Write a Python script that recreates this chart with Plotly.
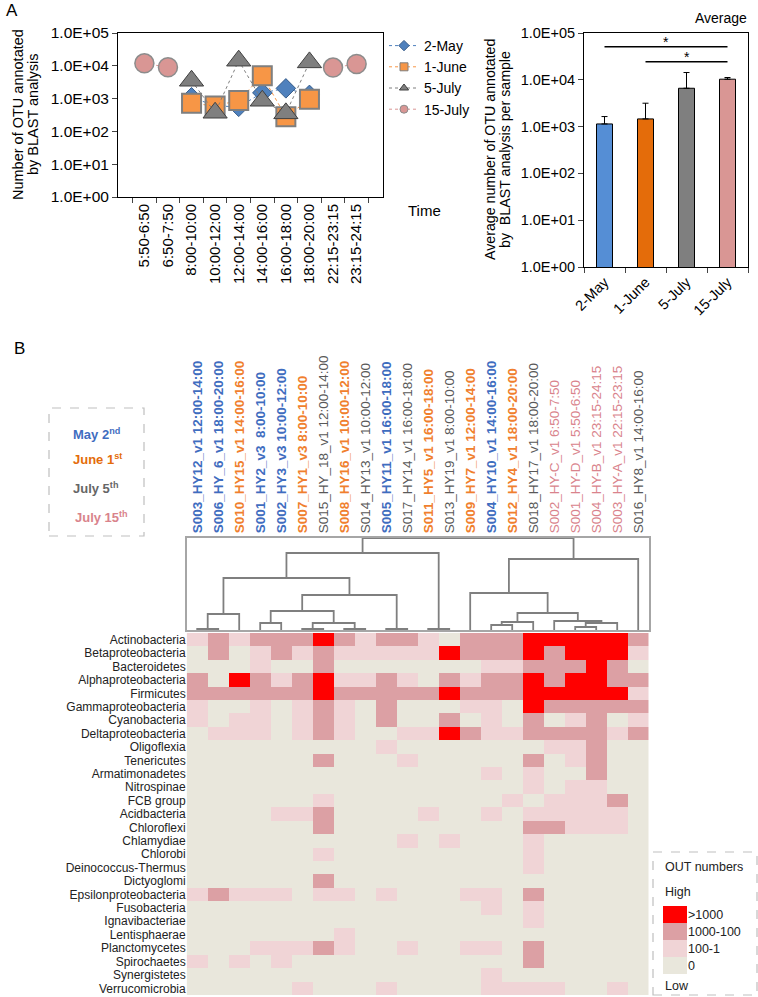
import math
import plotly.graph_objects as go

W, H = 758, 997
def fx(x): return x / W
def fy(y): return 1 - y / H

FONT = "Liberation Sans, Arial, sans-serif"

# ---------------- Panel A (left): OTU per time slot ----------------
time_slots = ['5:50-6:50', '6:50-7:50', '8:00-10:00', '10:00-12:00', '12:00-14:00',
              '14:00-16:00', '16:00-18:00', '18:00-20:00', '22:15-23:15', '23:15-24:15']
otu_may2 = [None, None, 1100, 600, 560, 1500, 2050, 1300, None, None]
otu_june1 = [None, None, 720, 600, 880, 5000, 280, 950, None, None]
otu_july5 = [None, None, 3500, 370, 14300, 860, 355, 12700, None, None]
otu_july15 = [11900, 9000, None, None, None, None, None, None, 8800, 11300]
series_names = ['2-May', '1-June', '5-July', '15-July']

# ---------------- Panel A (right): averages ----------------
avg_dates = ['2-May', '1-June', '5-July', '15-July']
avg_otu = [1140, 1460, 6600, 10300]
avg_err = [500, 1700, 7700, 900]
sig_from = ['2-May', '1-June']
sig_to = ['15-July', '15-July']
sig_level = [50800, 24300]

# ---------------- Panel B: heatmap ----------------
samples = ['S003_HY12_v1 12:00-14:00', 'S006_HY_6_v1 18:00-20:00', 'S010_HY15_v1 14:00-16:00',
           'S001_HY2_v3  8:00-10:00', 'S002_HY3_v3 10:00-12:00', 'S007_HY1_v3 8:00-10:00',
           'S015_HY_18_v1 12:00-14:00', 'S008_HY16_v1 10:00-12:00', 'S014_HY13_v1 10:00-12:00',
           'S005_HY11_v1 16:00-18:00', 'S017_HY14_v1 16:00-18:00', 'S011_HY5_v1 16:00-18:00',
           'S013_HY19_v1 8:00-10:00', 'S009_HY7_v1 12:00-14:00', 'S004_HY10_v1 14:00-16:00',
           'S012_HY4_v1 18:00-20:00', 'S018_HY17_v1 18:00-20:00', 'S002_HY-C_v1 6:50-7:50',
           'S001_HY-D_v1 5:50-6:50', 'S004_HY-B_v1 23:15-24:15', 'S003_HY-A_v1 22:15-23:15',
           'S016_HY8_v1 14:00-16:00']
sample_group = ['May', 'May', 'June', 'May', 'May', 'June', 'Jul5', 'June', 'Jul5', 'May', 'Jul5',
                'June', 'Jul5', 'June', 'May', 'June', 'Jul5', 'Jul15', 'Jul15', 'Jul15', 'Jul15', 'Jul5']
taxa = ['Actinobacteria', 'Betaproteobacteria', 'Bacteroidetes', 'Alphaproteobacteria', 'Firmicutes',
        'Gammaproteobacteria', 'Cyanobacteria', 'Deltaproteobacteria', 'Oligoflexia', 'Tenericutes',
        'Armatimonadetes', 'Nitrospinae', 'FCB group', 'Acidbacteria', 'Chloroflexi', 'Chlamydiae',
        'Chlorobi', 'Deinococcus-Thermus', 'Dictyoglomi', 'Epsilonproteobacteria', 'Fusobacteria',
        'Ignavibacteriae', 'Lentisphaerae', 'Planctomycetes', 'Spirochaetes', 'Synergistetes',
        'Verrucomicrobia']
# 0 = "0", 1 = "100-1", 2 = "1000-100", 3 = ">1000"
otu_level = [
    [1, 2, 1, 2, 2, 2, 3, 2, 1, 2, 2, 1, 0, 2, 2, 2, 3, 3, 3, 3, 3, 2],
    [0, 2, 0, 1, 2, 1, 2, 1, 1, 1, 1, 1, 3, 2, 2, 2, 3, 2, 3, 3, 3, 1],
    [0, 0, 0, 1, 0, 0, 2, 0, 0, 0, 0, 0, 0, 0, 1, 1, 2, 2, 2, 3, 2, 0],
    [2, 0, 3, 2, 1, 2, 3, 1, 1, 2, 1, 0, 2, 1, 2, 2, 3, 2, 3, 3, 2, 2],
    [2, 2, 2, 2, 2, 2, 3, 2, 2, 2, 2, 2, 3, 2, 2, 2, 3, 3, 3, 3, 3, 1],
    [1, 0, 0, 1, 0, 1, 2, 1, 0, 2, 0, 0, 0, 1, 1, 0, 3, 2, 2, 2, 2, 2],
    [1, 0, 1, 1, 0, 1, 2, 1, 0, 2, 0, 0, 2, 0, 1, 0, 2, 0, 1, 2, 0, 1],
    [0, 1, 1, 1, 0, 1, 2, 1, 0, 0, 1, 1, 3, 2, 1, 1, 2, 2, 2, 2, 1, 2],
    [0, 0, 0, 0, 0, 0, 0, 0, 0, 1, 0, 0, 0, 0, 0, 0, 0, 1, 1, 2, 0, 0],
    [0, 0, 0, 0, 0, 0, 2, 0, 0, 0, 1, 0, 0, 0, 0, 0, 2, 0, 1, 2, 0, 0],
    [0, 0, 0, 0, 0, 0, 0, 0, 0, 0, 0, 0, 0, 0, 1, 0, 1, 0, 0, 2, 0, 0],
    [0, 0, 0, 0, 0, 0, 0, 0, 0, 0, 0, 0, 0, 0, 0, 0, 1, 0, 1, 1, 0, 0],
    [0, 0, 0, 0, 0, 0, 1, 0, 0, 0, 0, 0, 0, 0, 0, 1, 0, 1, 1, 1, 2, 0],
    [0, 0, 0, 0, 1, 1, 2, 0, 0, 0, 0, 1, 0, 0, 1, 0, 1, 1, 1, 1, 1, 0],
    [0, 0, 0, 0, 0, 0, 2, 0, 0, 0, 0, 0, 0, 0, 0, 0, 2, 2, 1, 1, 1, 0],
    [0, 0, 0, 0, 0, 0, 0, 0, 0, 0, 1, 0, 1, 0, 0, 0, 1, 0, 0, 0, 0, 0],
    [0, 0, 0, 0, 0, 0, 1, 0, 0, 0, 0, 0, 0, 0, 0, 0, 1, 0, 0, 0, 0, 0],
    [0, 0, 0, 0, 0, 0, 0, 0, 0, 0, 0, 0, 0, 0, 0, 0, 1, 0, 0, 0, 0, 0],
    [0, 0, 0, 0, 0, 0, 2, 0, 0, 0, 0, 0, 0, 0, 0, 0, 0, 0, 0, 0, 0, 0],
    [1, 2, 1, 1, 1, 0, 1, 1, 0, 1, 0, 0, 0, 1, 1, 0, 2, 0, 0, 0, 0, 0],
    [0, 0, 0, 0, 0, 0, 0, 0, 0, 0, 0, 0, 0, 0, 1, 0, 1, 0, 0, 0, 0, 0],
    [0, 0, 0, 0, 0, 0, 0, 0, 0, 0, 0, 0, 0, 0, 0, 0, 1, 0, 0, 0, 0, 0],
    [0, 0, 0, 0, 0, 0, 0, 1, 0, 0, 0, 0, 0, 0, 0, 0, 0, 0, 0, 0, 0, 0],
    [0, 0, 0, 1, 1, 1, 2, 1, 0, 0, 1, 0, 0, 1, 1, 0, 2, 0, 0, 0, 0, 0],
    [1, 0, 1, 0, 1, 0, 0, 0, 0, 0, 0, 0, 0, 0, 0, 0, 2, 0, 0, 0, 0, 0],
    [0, 0, 0, 0, 0, 0, 0, 0, 0, 0, 0, 0, 0, 0, 1, 0, 0, 0, 0, 0, 0, 0],
    [0, 0, 0, 0, 0, 1, 0, 0, 0, 1, 0, 0, 0, 0, 1, 1, 1, 1, 0, 0, 1, 0],
]
level_labels = ['0', '100-1', '1000-100', '>1000']

# dendrogram merges: (left node, right node, height); new node ids start at len(samples)
linkage = [
    (0, 1, 1), (22, 2, 16), (3, 4, 7), (5, 6, 1), (7, 8, 1), (25, 26, 7), (24, 27, 19),
    (9, 10, 1), (28, 29, 35), (23, 30, 52), (11, 12, 1), (31, 32, 77), (14, 15, 5),
    (34, 16, 8), (18, 19, 3), (36, 20, 7), (17, 37, 9), (35, 38, 17), (13, 39, 37),
    (40, 21, 71), (33, 41, 92),
]

# ---------------- styles ----------------
C_MAY, C_JUNE, C_JUL5, C_JUL15 = '#4F81BD', '#F79646', '#7F7F7F', '#D99694'
BAR_COLORS = ['#558ED5', '#E46C0A', '#7F7F7F', '#D99694']
LABEL_COLORS = {'May': '#3F6DBF', 'June': '#F07F2E', 'Jul5': '#595959', 'Jul15': '#D9838C'}
HM_COLORS = ['#E9E7DC', '#F0D4D6', '#DCA0A4', '#FF0000']

fig = go.Figure()

series = [
    (otu_may2, 'diamond', 15, C_MAY, '#385D8A', 1),
    (otu_june1, 'square', 19, C_JUNE, '#7F7F7F', 2),
    (otu_july5, 'triangle-up', 21, C_JUL5, '#404040', 1),
    (otu_july15, 'circle', 19, C_JUL15, '#8C8C8C', 1.5),
]
for (vals, sym, size, col, lcol, lw), name in zip(series, series_names):
    fig.add_trace(go.Scatter(
        x=time_slots, y=vals, mode='lines+markers', name=name, showlegend=False,
        line=dict(color=col, width=1, dash='dot'), connectgaps=False,
        marker=dict(symbol=sym, size=size, color=col, line=dict(color=lcol, width=lw)),
        xaxis='x', yaxis='y', hoverinfo='skip'))
for (vals, sym, size, col, lcol, lw), name in zip(series, series_names):
    fig.add_trace(go.Scatter(
        x=[None], y=[None], mode='lines+markers', name=name, showlegend=True,
        line=dict(color=col, width=1, dash='dot'),
        marker=dict(symbol=sym, size=8, color=col, line=dict(color=lcol, width=1)),
        xaxis='x', yaxis='y'))

# right bar chart
fig.add_trace(go.Bar(
    x=avg_dates, y=avg_otu, marker=dict(color=BAR_COLORS, line=dict(color='#000000', width=1)),
    error_y=dict(type='data', array=avg_err, symmetric=False, arrayminus=[0] * len(avg_err),
                 color='#000000', thickness=1, width=3),
    width=0.39, xaxis='x2', yaxis='y2', showlegend=False, hoverinfo='skip'))

# dendrogram
node_x = {i: float(i) for i in range(len(samples))}
node_h = {i: 0.0 for i in range(len(samples))}
dx, dy = [], []
for k, (a, b, h) in enumerate(linkage):
    nid = len(samples) + k
    dx += [node_x[a], node_x[a], node_x[b], node_x[b], None]
    dy += [node_h[a], h, h, node_h[b], None]
    node_x[nid] = (node_x[a] + node_x[b]) / 2
    node_h[nid] = h
fig.add_trace(go.Scatter(x=dx, y=dy, mode='lines', line=dict(color='#7F7F7F', width=1.8),
                         xaxis='x3', yaxis='y3', showlegend=False, hoverinfo='skip'))

# heatmap
cs = []
for i, c in enumerate(HM_COLORS):
    cs += [[i / 4, c], [(i + 1) / 4, c]]
fig.add_trace(go.Heatmap(z=otu_level, x=list(range(len(samples))), y=taxa, zmin=-0.5, zmax=3.5,
                         colorscale=cs, showscale=False, xaxis='x4', yaxis='y4', hoverinfo='skip'))
# heatmap legend swatches
fig.add_trace(go.Heatmap(z=[[i] for i in range(4)], y=level_labels, x=[0], zmin=-0.5, zmax=3.5,
                         colorscale=cs, showscale=False, xaxis='x5', yaxis='y5', hoverinfo='skip'))

ticktext = []
for s, g in zip(samples, sample_group):
    t = f"<span style='color:{LABEL_COLORS[g]}'>{s}</span>"
    if g in ('May', 'June'):
        t = f"<b>{t}</b>"
    ticktext.append(t)

axis_common = dict(showgrid=False, zeroline=False)
log_ticks = [1, 10, 100, 1000, 10000, 100000]
log_text = ['1.0E+00', '1.0E+01', '1.0E+02', '1.0E+03', '1.0E+04', '1.0E+05']

fig.update_layout(
    width=W, height=H, template='none',
    margin=dict(l=0, r=0, t=0, b=0),
    paper_bgcolor='white', plot_bgcolor='white',
    font=dict(family=FONT, size=14, color='#000000'),
    legend=dict(x=fx(384), y=fy(30), xanchor='left', yanchor='top', font=dict(size=14),
                bgcolor='rgba(0,0,0,0)', tracegroupgap=0, itemwidth=30),
    xaxis=dict(domain=[fx(118), fx(383)], type='category', tickson='boundaries', ticks='outside',
               ticklen=5, tickangle=-90, tickfont=dict(size=15), showline=True, mirror=True,
               linecolor='#000', linewidth=1, anchor='y', **axis_common),
    yaxis=dict(domain=[fy(197), fy(33)], type='log', range=[0, 5], tickvals=log_ticks,
               ticktext=log_text, ticks='outside', ticklen=5, tickfont=dict(size=15.5),
               showline=True, mirror=True, linecolor='#000', linewidth=1, anchor='x', **axis_common),
    xaxis2=dict(domain=[fx(584), fx(748)], type='category', tickson='boundaries', ticks='outside',
                ticklen=5, tickangle=-45, tickfont=dict(size=14.5), showline=True, mirror=True,
                linecolor='#000', linewidth=1, anchor='y2', **axis_common),
    yaxis2=dict(domain=[fy(267), fy(33)], type='log', range=[0, 5], tickvals=log_ticks,
                ticktext=log_text, ticks='outside', ticklen=5, tickfont=dict(size=14.5),
                showline=True, mirror=True, linecolor='#000', linewidth=1, anchor='x2', **axis_common),
    xaxis3=dict(domain=[fx(186.7), fx(648.7)], range=[-0.5, len(samples) - 0.5], side='top',
                tickmode='array', tickvals=list(range(len(samples))), ticktext=ticktext,
                tickangle=-90, ticks='', tickfont=dict(size=13.5), showline=True, mirror=True,
                linecolor='#A6A6A6', linewidth=2, anchor='y3', **axis_common),
    yaxis3=dict(domain=[fy(630), fy(538)], range=[0, 92], showticklabels=False, ticks='',
                showline=True, mirror=True, linecolor='#A6A6A6', linewidth=2, anchor='x3',
                **axis_common),
    xaxis4=dict(domain=[fx(186.7), fx(648.7)], range=[-0.5, len(samples) - 0.5],
                showticklabels=False, ticks='', anchor='y4', **axis_common),
    yaxis4=dict(domain=[fy(995), fy(633)], type='category', autorange='reversed', ticks='',
                tickmode='array', tickvals=taxa, ticktext=taxa,
                tickfont=dict(size=12, color='#222222'), anchor='x4', **axis_common),
    xaxis5=dict(domain=[fx(663), fx(687)], showticklabels=False, ticks='', anchor='y5',
                **axis_common),
    yaxis5=dict(domain=[fy(974), fy(906)], type='category', side='right', ticks='',
                tickmode='array', tickvals=level_labels, ticktext=level_labels,
                tickfont=dict(size=12.5, color='#222222'), anchor='x5', **axis_common),
)

shapes = []
annotations = []
# significance lines
for a, b, lv in zip(sig_from, sig_to, sig_level):
    i0, i1 = avg_dates.index(a), avg_dates.index(b)
    shapes.append(dict(type='line', xref='x2', yref='y2', x0=i0, x1=i1,
                       y0=lv, y1=lv, line=dict(color='#000', width=1.3)))
    annotations.append(dict(xref='x2', yref='y2', x=(i0 + i1) / 2, y=math.log10(lv) + 0.11,
                            text='*', showarrow=False, font=dict(size=14, color='#000000'),
                            yanchor='middle'))

# legend boxes
shapes.append(dict(type='rect', xref='paper', yref='paper', x0=fx(49), x1=fx(144), y0=fy(536),
                   y1=fy(408), line=dict(color='#BFBFBF', width=1.2, dash='dash')))
shapes.append(dict(type='rect', xref='paper', yref='paper', x0=fx(653), x1=fx(757), y0=fy(995),
                   y1=fy(852), line=dict(color='#BFBFBF', width=1.2, dash='dash')))

def ann(x, y, text, size=14, xanchor='left', color='#000', angle=0, bold=False):
    if bold:
        text = f"<b>{text}</b>"
    annotations.append(dict(xref='paper', yref='paper', x=fx(x), y=fy(y), text=text,
                            showarrow=False, xanchor=xanchor, yanchor='middle', textangle=angle,
                            font=dict(size=size, color=color)))

ann(4, 11, 'A', size=17)
ann(12, 348, 'B', size=17)
ann(406, 210, 'Time', size=15)
ann(749, 18, 'Average', size=14, xanchor='right')
ann(18, 115, 'Number of OTU annotated', size=14.5, xanchor='center', angle=-90)
ann(33, 115, 'by BLAST analysis', size=14.5, xanchor='center', angle=-90)
ann(490, 150, 'Average number of OTU annotated', size=14.2, xanchor='center', angle=-90)
ann(505, 150, 'by  BLAST analysis per sample', size=14.2, xanchor='center', angle=-90)
ann(71, 434, 'May 2<sup>nd</sup>', size=13, color='#3F6DBF', bold=True)
ann(71, 459, 'June 1<sup>st</sup>', size=13, color='#E46C0A', bold=True)
ann(71, 488, 'July 5<sup>th</sup>', size=13, color='#666666', bold=True)
ann(73, 517, 'July 15<sup>th</sup>', size=13, color='#D9838C', bold=True)
ann(663, 867, 'OUT numbers', size=12.5, color='#222')
ann(663, 892, 'High', size=12.5, color='#222')
ann(663, 986, 'Low', size=12.5, color='#222')

fig.update_layout(shapes=shapes, annotations=annotations)
fig.write_html('out.html', config={'displayModeBar': False},
               post_script="document.body.style.margin='0px';document.body.style.padding='0px';")
